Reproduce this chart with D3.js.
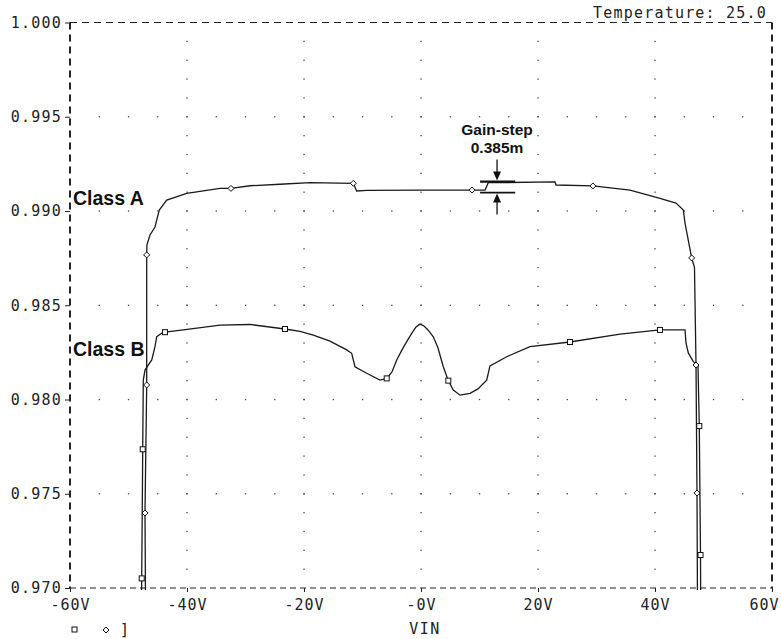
<!DOCTYPE html>
<html>
<head>
<meta charset="utf-8">
<script src="https://cdn.jsdelivr.net/npm/d3@7"></script>
<style>
  html, body { margin: 0; padding: 0; background: #fff; }
  svg { display: block; }
  .mono { font-family: "DejaVu Sans Mono", "Liberation Mono", monospace; fill: #222; }
  .bold { font-family: "Liberation Sans", Arial, sans-serif; font-weight: bold; fill: #111; }
</style>
</head>
<body>
<svg id="chart" width="781" height="639"></svg>
<script>
// ---------- data ----------
const xTicks = [-60, -40, -20, 0, 20, 40, 60];
const xTickLabels = ["-60V", "-40V", "-20V", "-0V", "20V", "40V", "60V"];
const yTicks = [1.000, 0.995, 0.990, 0.985, 0.980, 0.975, 0.970];
const yTickLabels = ["1.000", "0.995", "0.990", "0.985", "0.980", "0.975", "0.970"];

// Class A (diamond markers)
const classAVin = [-47.09, -47.18, -46.89, -46.89, -46.85, -46.32, -45.47, -44.74, -43.47, -40.05,
  -34.36, -32.48, -29.23, -24.10, -18.97, -11.57, -10.99, -9.28, -0.17, 8.72,
  10.94, 11.50, 22.91, 23.08, 29.40, 35.73, 40.85, 43.59, 44.84, 45.13,
  46.27, 46.75, 47.01, 47.18, 47.26];
const classAGain = [0.96936, 0.97398, 0.98077, 0.98767, 0.98820, 0.98873, 0.98915, 0.99005, 0.99058, 0.99094,
  0.99120, 0.99120, 0.99134, 0.99142, 0.99150, 0.99147, 0.99106, 0.99109, 0.99111, 0.99111,
  0.99111, 0.99150, 0.99154, 0.99138, 0.99133, 0.99111, 0.99067, 0.99042, 0.99005, 0.98936,
  0.98751, 0.98700, 0.98183, 0.97504, 0.96936];
const classAMarkers = [1, 2, 3, 11, 15, 19, 24, 30, 32, 33];

// Class B (square markers)
const classBVin = [-47.78, -47.74, -47.57, -47.47, -47.18, -46.03, -45.47, -45.18, -44.32, -43.76,
  -40.63, -34.36, -29.23, -23.25, -20.68, -18.41, -15.56, -12.70, -11.85, -11.28,
  -9.28, -7.01, -5.86, -4.96, -4.15, -3.25, -2.44, -1.54, -0.85, -0.17,
  0.51, 1.20, 2.10, 2.91, 3.81, 4.67, 5.52, 6.67, 8.38, 9.74,
  11.23, 11.79, 14.65, 18.63, 25.47, 34.02, 40.85, 45.13, 45.30, 45.69,
  46.55, 47.35, 47.57, 47.78, 47.81];
const classBGain = [0.96936, 0.97051, 0.97736, 0.98103, 0.98156, 0.98210, 0.98280, 0.98333, 0.98351, 0.98357,
  0.98369, 0.98395, 0.98398, 0.98374, 0.98362, 0.98342, 0.98310, 0.98263, 0.98245, 0.98174,
  0.98139, 0.98103, 0.98112, 0.98146, 0.98210, 0.98263, 0.98307, 0.98353, 0.98385, 0.98400,
  0.98390, 0.98369, 0.98333, 0.98273, 0.98174, 0.98100, 0.98050, 0.98023, 0.98033, 0.98056,
  0.98103, 0.98178, 0.98227, 0.98280, 0.98305, 0.98347, 0.98369, 0.98369, 0.98300, 0.98247,
  0.98201, 0.98178, 0.97859, 0.97175, 0.96936];
const classBMarkers = [1, 2, 9, 13, 22, 35, 44, 46, 52, 53];

// gain-step annotation
const stepVin = [10.1, 16.1];
const stepGain = [0.99156, 0.99098];
const stepArrowVin = 13.0;

// ---------- layout ----------
const svg = d3.select("#chart");
const padL = 70, padR = 772, padT = 22.5, padB = 588;
const x = d3.scaleLinear().domain([-60, 60]).range([padL, padR]);
const y = d3.scaleLinear().domain([0.970, 1.000]).range([padB, padT]);

// grid dots
const gridG = svg.append("g").attr("fill", "#444");
const rowDots = [];
yTicks.slice(1, -1).forEach(g => { for (let v = -55; v <= 55; v += 5) rowDots.push([v, g]); });
const colDots = [];
xTicks.slice(1, -1).forEach(v => { for (let k = 1; k < 30; k++) colDots.push([v, 0.970 + k * 0.001]); });
gridG.selectAll("rect.r").data(rowDots.concat(colDots)).enter().append("rect")
  .attr("x", d => x(d[0]) - 0.6).attr("y", d => y(d[1]) - 0.6)
  .attr("width", 1.3).attr("height", 1.3);

// frame (dashed)
const frame = svg.append("g").attr("stroke", "#222").attr("fill", "none");
frame.append("line").attr("x1", padL).attr("x2", padR).attr("y1", padT).attr("y2", padT)
  .attr("stroke-width", 1.2).attr("stroke-dasharray", "7,5");
frame.append("line").attr("x1", padL).attr("x2", padR).attr("y1", padB).attr("y2", padB)
  .attr("stroke-width", 1.2).attr("stroke-dasharray", "6,4");
frame.append("line").attr("x1", padL).attr("x2", padL).attr("y1", padT).attr("y2", padB)
  .attr("stroke-width", 2).attr("stroke-dasharray", "7,5");
frame.append("line").attr("x1", padR).attr("x2", padR).attr("y1", padT).attr("y2", padB)
  .attr("stroke-width", 2).attr("stroke-dasharray", "7,5");

// axes ticks + labels
const yAxis = d3.axisLeft(y).tickValues(yTicks).tickSize(5)
  .tickFormat((d, i) => yTickLabels[i]);
const ya = svg.append("g").attr("transform", `translate(${padL},0)`).call(yAxis);
ya.select(".domain").remove();
ya.selectAll(".tick line").attr("stroke", "#222");
ya.selectAll(".tick text").attr("class", "mono").attr("x", -8)
  .style("font-size", "15px").style("letter-spacing", "1.2px").attr("fill", "#222");

const xAxis = d3.axisBottom(x).tickValues(xTicks).tickSize(4)
  .tickFormat((d, i) => xTickLabels[i]);
const xa = svg.append("g").attr("transform", `translate(0,${padB})`).call(xAxis);
xa.select(".domain").remove();
xa.selectAll(".tick line").attr("stroke", "#222");
xa.selectAll(".tick text").attr("class", "mono").attr("y", 11)
  .style("font-size", "15px").style("letter-spacing", "1px").attr("fill", "#222");
// last label sits inside the page edge
xa.selectAll(".tick text").filter(d => d === 60).attr("text-anchor", "end").attr("x", 7);

svg.append("text").attr("class", "mono").attr("x", x(0) + 4).attr("y", 634)
  .attr("text-anchor", "middle").style("font-size", "15px").style("letter-spacing", "1.5px").text("VIN");
svg.append("text").attr("class", "mono").attr("x", 767).attr("y", 18)
  .attr("text-anchor", "end").style("font-size", "15px").style("letter-spacing", "1.2px").text("Temperature: 25.0");

// curves
svg.append("defs").append("clipPath").attr("id", "clip").append("rect")
  .attr("x", padL).attr("y", padT).attr("width", padR - padL).attr("height", padB - padT + 2);
const line = d3.line().x(d => x(d[0])).y(d => y(d[1]));
const dataA = classAVin.map((v, i) => [v, classAGain[i]]);
const dataB = classBVin.map((v, i) => [v, classBGain[i]]);
const curves = svg.append("g").attr("clip-path", "url(#clip)");
curves.append("path").datum(dataA).attr("d", line).attr("fill", "none").attr("stroke", "#1a1a1a").attr("stroke-width", 1.3);
curves.append("path").datum(dataB).attr("d", line).attr("fill", "none").attr("stroke", "#1a1a1a").attr("stroke-width", 1.3);

// markers
const mk = svg.append("g").attr("stroke", "#111").attr("stroke-width", 1).attr("fill", "#fff");
mk.selectAll("path.dia").data(classAMarkers.map(i => dataA[i])).enter().append("path")
  .attr("d", d => { const cx = x(d[0]), cy = y(d[1]); return `M${cx},${cy - 3}L${cx + 3},${cy}L${cx},${cy + 3}L${cx - 3},${cy}Z`; });
mk.selectAll("rect.sq").data(classBMarkers.map(i => dataB[i])).enter().append("rect")
  .attr("x", d => x(d[0]) - 2.5).attr("y", d => y(d[1]) - 2.5).attr("width", 5).attr("height", 5);

// labels
svg.append("text").attr("class", "bold").attr("x", 73).attr("y", 205).style("font-size", "19.5px").text("Class A");
svg.append("text").attr("class", "bold").attr("x", 73).attr("y", 356).style("font-size", "19.5px").text("Class B");
svg.append("text").attr("class", "bold").attr("x", x(stepArrowVin)).attr("y", 135).attr("text-anchor", "middle")
  .style("font-size", "15.5px").text("Gain-step");
svg.append("text").attr("class", "bold").attr("x", x(stepArrowVin)).attr("y", 153).attr("text-anchor", "middle")
  .style("font-size", "15.5px").text("0.385m");

// gain-step bars and arrows
const ann = svg.append("g").attr("stroke", "#111");
const yHi = y(stepGain[0]), yLo = y(stepGain[1]), ax = x(stepArrowVin);
ann.append("line").attr("x1", x(stepVin[0])).attr("x2", x(stepVin[1])).attr("y1", yHi).attr("y2", yHi).attr("stroke-width", 2.4);
ann.append("line").attr("x1", x(stepVin[0])).attr("x2", x(stepVin[1])).attr("y1", yLo).attr("y2", yLo).attr("stroke-width", 1.8);
ann.append("line").attr("x1", ax).attr("x2", ax).attr("y1", yHi - 22).attr("y2", yHi - 8).attr("stroke-width", 1.3);
ann.append("line").attr("x1", ax).attr("x2", ax).attr("y1", yLo + 8).attr("y2", yLo + 22).attr("stroke-width", 1.3);
ann.append("path").attr("stroke", "none").attr("fill", "#111")
  .attr("d", `M${ax - 4},${yHi - 10}L${ax + 4},${yHi - 10}L${ax},${yHi - 1}Z`);
ann.append("path").attr("stroke", "none").attr("fill", "#111")
  .attr("d", `M${ax - 4},${yLo + 10}L${ax + 4},${yLo + 10}L${ax},${yLo + 1}Z`);

// legend
const lg = svg.append("g").attr("stroke", "#111").attr("stroke-width", 1).attr("fill", "#fff");
lg.append("rect").attr("x", 72).attr("y", 627).attr("width", 5).attr("height", 5);
lg.append("path").attr("d", "M106,627L109,630L106,633L103,630Z");
svg.append("text").attr("class", "mono").attr("x", 120).attr("y", 635).style("font-size", "15px").text("]");
</script>
</body>
</html>
